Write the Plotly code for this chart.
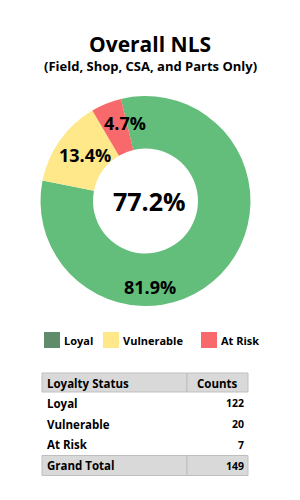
import math
import plotly.graph_objects as go

# ---- data ----
statuses = ["Loyal", "Vulnerable", "At Risk"]
counts = [122, 20, 7]
slice_colors = ["#63BE7B", "#FFE88A", "#F8696B"]
legend_colors = ["#5E8C6A", "#FFE88A", "#F8696B"]
title_text = "Overall NLS"
subtitle_text = "(Field, Shop, CSA, and Parts Only)"
table_header = ["Loyalty Status", "Counts"]
total_label = "Grand Total"

W, H = 300, 500
FONT = "Open Sans"


def px(x):
    return x / W


def py(y):
    return 1 - y / H


total = sum(counts)
pcts = [c / total * 100 for c in counts]
nls = pcts[0] - pcts[2]

# donut geometry (pixels)
cx, cy, R = 145.5, 201.0, 105.0
hole = 0.5
rotation = -13.5

fig = go.Figure()
fig.add_trace(go.Pie(
    labels=statuses, values=counts, sort=False, direction="clockwise",
    rotation=rotation, hole=hole,
    marker=dict(colors=slice_colors, line=dict(width=0)),
    textinfo="none", hoverinfo="label+value+percent", showlegend=False,
    domain=dict(x=[px(cx - R), px(cx + R)], y=[py(cy + R), py(cy - R)]),
))

annotations = []
shapes = []
# slice labels
r_lab = (R * hole + R) / 2 + 2
cum = 0.0
for i, c in enumerate(counts):
    frac = c / total
    mid = rotation + (cum + frac / 2) * 360
    cum += frac
    if i == 0:
        ang = 177  # large slice label sits at the bottom of the ring
        rr = r_lab + 5
    elif i == 2:
        ang = mid + 7
        rr = r_lab
    else:
        ang = mid
        rr = r_lab - 1
    lx = cx + rr * math.sin(math.radians(ang))
    ly = cy - rr * math.cos(math.radians(ang))
    annotations.append(dict(
        x=px(lx + (4 if i == 1 else 0)), y=py(ly), xref="paper", yref="paper", showarrow=False,
        text=f"<b>{pcts[i]:.1f}%</b>", font=dict(family=FONT, size=18, color="black"),
        xanchor="center", yanchor="middle"))

# center value
annotations.append(dict(
    x=px(cx + 4), y=py(cy), xref="paper", yref="paper", showarrow=False,
    text=f"<b>{nls:.1f}%</b>", font=dict(family=FONT, size=25, color="black"),
    xanchor="center", yanchor="middle"))

# titles
annotations.append(dict(
    x=0.5, y=py(44), xref="paper", yref="paper", showarrow=False,
    text=f"<b>{title_text}</b>", font=dict(family=FONT, size=21, color="black"),
    xanchor="center", yanchor="middle"))
annotations.append(dict(
    x=0.5, y=py(66), xref="paper", yref="paper", showarrow=False,
    text=f"<b>{subtitle_text}</b>", font=dict(family=FONT, size=13, color="black"),
    xanchor="center", yanchor="middle"))

# custom legend
leg_x = [44, 103, 201]
for i, s in enumerate(statuses):
    shapes.append(dict(type="rect", xref="paper", yref="paper",
                       x0=px(leg_x[i]), x1=px(leg_x[i] + 16), y0=py(348), y1=py(332),
                       fillcolor=legend_colors[i], line=dict(width=0)))
    annotations.append(dict(
        x=px(leg_x[i] + 18), y=py(340), xref="paper", yref="paper", showarrow=False,
        text=f"<b>{s}</b>", font=dict(family=FONT, size=11, color="black"),
        xanchor="left", yanchor="middle"))

# table (drawn as cells)
col1 = statuses + [total_label]
col2 = counts + [total]
tx0, tx_mid, tx1 = 42, 187, 248
top = 373
hdr_h = 19
row_h = 20.75
grid = "#BFBFBF"
gray = "#D9D9D9"


def cell(x0, x1, y0, y1):
    shapes.append(dict(type="rect", xref="paper", yref="paper",
                       x0=px(x0), x1=px(x1), y0=py(y1), y1=py(y0),
                       fillcolor=gray, line=dict(color=grid, width=1)))


cell(tx0, tx_mid, top, top + hdr_h)
cell(tx_mid, tx1, top, top + hdr_h)
annotations.append(dict(x=px(tx0 + 3), y=py(top + hdr_h / 2 + 0.5), xref="paper", yref="paper",
                        showarrow=False, text=f"<b>{table_header[0]}</b>",
                        font=dict(family=FONT, size=11.5, color="black"),
                        xanchor="left", yanchor="middle"))
annotations.append(dict(x=px((tx_mid + tx1) / 2), y=py(top + hdr_h / 2 + 0.5), xref="paper", yref="paper",
                        showarrow=False, text=f"<b>{table_header[1]}</b>",
                        font=dict(family=FONT, size=11.5, color="black"),
                        xanchor="center", yanchor="middle"))
for i, (lab, val) in enumerate(zip(col1, col2)):
    yc = top + hdr_h / 2 + row_h * (i + 1)
    if i == len(col1) - 1:
        cell(tx0, tx_mid, yc - 10, yc + 10)
        cell(tx_mid, tx1, yc - 10, yc + 10)
    annotations.append(dict(x=px(tx0 + 3), y=py(yc), xref="paper", yref="paper",
                            showarrow=False, text=f"<b>{lab}</b>",
                            font=dict(family=FONT, size=11.5, color="black"),
                            xanchor="left", yanchor="middle"))
    annotations.append(dict(x=px(tx1 - 2), y=py(yc), xref="paper", yref="paper",
                            showarrow=False, text=f"<b>{val}</b>",
                            font=dict(family=FONT, size=10.5, color="black"),
                            xanchor="right", yanchor="middle"))

fig.update_layout(
    width=W, height=H, margin=dict(l=0, r=0, t=0, b=0),
    paper_bgcolor="white", plot_bgcolor="white",
    annotations=annotations, shapes=shapes, showlegend=False,
)
fig.write_html("out.html")
